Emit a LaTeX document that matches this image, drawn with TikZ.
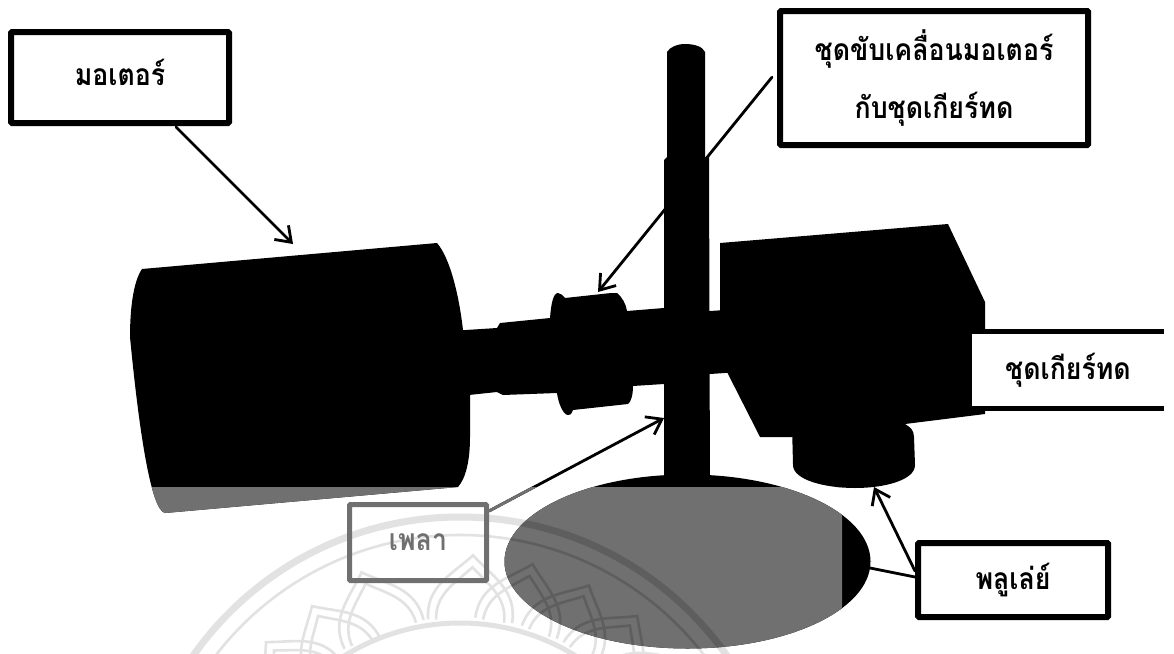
\documentclass[tikz,border=0pt]{standalone}
\usepackage{fontspec}
\newfontfamily\thaifont[Script=Thai,FakeStretch=0.89]{Loma}
\usetikzlibrary{arrows.meta}
\definecolor{fadegray}{HTML}{707070}
\definecolor{wmlight}{HTML}{E2E2E2}
\definecolor{wmdark}{HTML}{5E5E5E}
\tikzset{
  lbl/.style={font=\thaifont\bfseries\fontsize{30}{58}\selectfont, align=center, inner sep=0pt, text=black},
  blackbox/.style={lbl, draw=black, fill=white, line width=6pt, rounded corners=1pt},
  fadebox/.style={lbl, draw=fadegray, line width=5pt, text=fadegray, rounded corners=1pt},
  gearlabel/.style={lbl, fill=white, minimum width=192pt, minimum height=76pt},
  leader/.style={line width=2.8pt, line cap=round},
  pointer/.style={leader, -{Straight Barb[length=14pt,width=20pt,line width=2.8pt]}},
  wmthick/.style={line width=7pt},
  wmthin/.style={line width=2.6pt}
}
\newcommand{\motorshape}{(142,269) -- (437,243) .. controls (450,258) and (459,295) .. (463,330)
    -- (470,395) -- (470,437) .. controls (470,460) and (466,478) .. (458,487)
    -- (165,513) .. controls (150,510) and (138,420) .. (130,337)
    .. controls (130,310) and (133,282) .. (142,269) -- cycle}
\newcommand{\plateshape}{(687.5,561.5) ellipse [x radius=183, y radius=87]}
\newcommand{\mechanism}{%
  % motor
  \fill \motorshape;
  % shaft, couplings
  \fill (450,331) -- (497,328) -- (500,323) -- (550,318) .. controls (551,305) and (553,293) .. (558,293)
    .. controls (561,293) and (563,296) .. (565,298) -- (611,293) -- (617,293)
    .. controls (622,297) and (626,304) .. (627,311) -- (664,308) -- (710,311) -- (740,309)
    -- (740,372) -- (710,374) -- (664,384) -- (633,386)
    .. controls (633,395) and (631,402) .. (628,404) -- (573,410)
    .. controls (571,415) and (570,415) .. (568,415) .. controls (563,415) and (558,402) .. (557,393)
    -- (503,395) -- (497,392) -- (450,397) -- cycle;
  % gear box
  \fill (720,243) -- (948,224) -- (985,302) -- (985,414) -- (905,424) -- (792,437) -- (760,437) -- (727,372) -- (720,310) -- cycle;
  % pulley
  \fill (792,425) -- (905,415) -- (905,424) .. controls (910,427) and (914,430) .. (914,437)
    -- (915,465) .. controls (915,480) and (885,488) .. (855,488)
    .. controls (825,488) and (793,480) .. (793,465) -- cycle;
  % pole
  \fill (667,157) -- (667,52) .. controls (670,47) and (677,44) .. (685,44)
    .. controls (695,44) and (703,47) .. (705,52) -- (705,157) -- (709,157)
    -- (710,500) -- (664,500) -- (664,160) -- cycle;
  % plate
  \fill \plateshape;
}
\newcommand{\petal}[2]{%
  \begin{scope}[shift={(460,843)},rotate=#1,scale=#2]
    \draw[wmthin] (-42,-222) .. controls (-46,-255) and (-20,-268) .. (0,-288) .. controls (20,-268) and (46,-255) .. (42,-222);
    \draw[wmthin] (-34,-222) .. controls (-36,-248) and (-16,-260) .. (0,-276) .. controls (16,-260) and (36,-248) .. (34,-222);
  \end{scope}}
\newcommand{\watermark}{%
  \draw[wmthick] (460,843) circle [radius=326];
  \draw[wmthin] (460,843) circle [radius=308];
  \draw[line width=5pt] (460,843) circle [radius=220];
  \petal{-50}{1}\petal{-38}{1}\petal{-26.6}{1}\petal{-14.6}{1}\petal{-2.6}{1}
  \petal{20}{1}\petal{32}{.97}\petal{44}{.97}
}
\begin{document}
\begin{tikzpicture}[x=1pt,y=-1pt]
  \useasboundingbox (0,0) rectangle (1174,653);
  \fill[white] (0,0) rectangle (1174,653);

  % watermark on the white ground
  \begin{scope}
    \clip (0,487) rectangle (1174,653);
    \begin{scope}[draw=wmlight]
      \watermark
    \end{scope}
  \end{scope}

  \mechanism

  % labels
  \node[blackbox, minimum width=218pt, minimum height=91pt] (motor) at (120,77.5) {\raisebox{10pt}{มอเตอร์}};
  \node[blackbox, minimum width=308pt, minimum height=134pt] (drive) at (934,78) {\raisebox{5pt}{ชุดขับเคลื่อนมอเตอร์}\\\raisebox{5pt}{กับชุดเกียร์ทด}};
  \node[gearlabel] (gear) at (1068,370) {ชุดเกียร์ทด};
  \draw[line width=5pt] (gear.north west) -- (gear.north east);
  \draw[line width=5pt] (gear.south west) -- (gear.south east);
  \node[blackbox, minimum width=190pt, minimum height=74pt] (pulley) at (1013,580) {พลูเล่ย์};

  % free ends
  \coordinate (motortip) at (293,244);
  \coordinate (drivetip) at (598,292);
  \coordinate (shafttip) at (664,418);
  \coordinate (pulleytip) at (874,487);
  \coordinate (plateedge) at (870,568);
  \coordinate (motorfoot) at (176,127);
  \coordinate (drivefoot) at (777,71);
  \coordinate (shaftfoot) at (489,511);
  \coordinate (pulleyfootA) at (915,571);
  \coordinate (pulleyfootB) at (915,577);

  % connectors
  \draw[pointer] (motorfoot) -- (motortip);
  \draw[pointer, shorten <=8pt] (drivefoot) -- (drivetip);
  \draw[pointer] (shaftfoot) -- (shafttip);
  \draw[pointer] (pulleyfootA) -- (pulleytip);
  \draw[leader] (pulleyfootB) -- (plateedge);

  % fade band of the lower part
  \begin{scope}
    \clip (0,487) rectangle (842,653);
    \begin{scope}[fadegray]
      \mechanism
    \end{scope}
    \draw[leader, fadegray] (shaftfoot) -- (shafttip);
  \end{scope}
  \node[fadebox, minimum width=137pt, minimum height=76pt] (shaft) at (418,542.5) {\raisebox{-2pt}{เพลา}};

  % watermark over the grey plate
  \begin{scope}
    \clip (0,487) rectangle (842,653);
    \clip \plateshape;
    \begin{scope}[draw=wmdark]
      \watermark
    \end{scope}
  \end{scope}
\end{tikzpicture}
\end{document}
